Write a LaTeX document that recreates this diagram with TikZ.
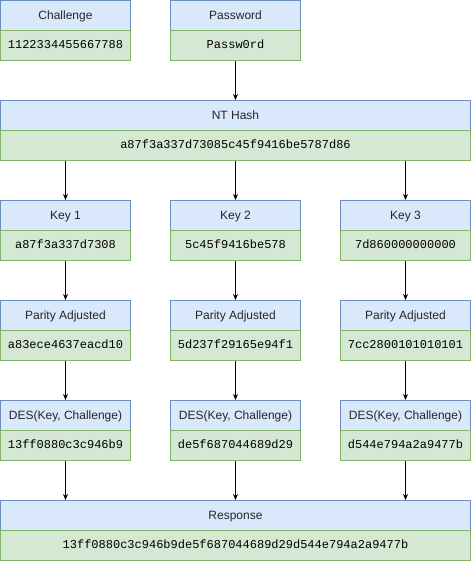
\documentclass[tikz,border=0pt]{standalone}
\usepackage{fontspec}
\setmainfont{Liberation Sans}
\setmonofont{Liberation Mono}
\usetikzlibrary{arrows.meta}

\definecolor{headfill}{HTML}{DAE8FC}
\definecolor{headline}{HTML}{6C8EBF}
\definecolor{valfill}{HTML}{D5E8D4}
\definecolor{valline}{HTML}{82B366}

\tikzset{
  head/.style={draw=headline, fill=headfill, line width=1pt, minimum height=30pt,
    inner sep=0pt, text height=9pt, text depth=1pt,
    font=\fontsize{12}{14}\selectfont, text=black!85},
  val/.style={draw=valline, fill=valfill, line width=1pt, minimum height=30pt,
    inner sep=0pt, text height=8pt, text depth=2pt,
    font=\fontsize{12}{14}\selectfont\ttfamily},
  narrow/.style={minimum width=130pt},
  wide/.style={minimum width=470pt},
  arr/.style={-{Stealth[length=6pt,width=5pt]}, line width=1pt}
}

\begin{document}
\begin{tikzpicture}[x=1pt, y=-1pt]
\useasboundingbox (0,0) rectangle (471,561);
%
  \node [head, narrow] at (65.5,15.5) (chal-h) {Challenge};
  \node [val, narrow] at (65.5,45.5) (chal-v) {1122334455667788};
  \node [head, narrow] at (235.5,15.5) (pw-h) {Password};
  \node [val, narrow] at (235.5,45.5) (pw-v) {Passw0rd};
%
  \node [head, wide] at (235.5,115.5) (nt-h) {NT Hash};
  \node [val, wide] at (235.5,145.5) (nt-v) {a87f3a337d73085c45f9416be5787d86};
%
  \node [head, narrow] at (65.5,215.5) (k1-h) {Key 1};
  \node [val, narrow] at (65.5,245.5) (k1-v) {a87f3a337d7308};
  \node [head, narrow] at (235.5,215.5) (k2-h) {Key 2};
  \node [val, narrow] at (235.5,245.5) (k2-v) {5c45f9416be578};
  \node [head, narrow] at (405.5,215.5) (k3-h) {Key 3};
  \node [val, narrow] at (405.5,245.5) (k3-v) {7d860000000000};
%
  \node [head, narrow] at (65.5,315.5) (p1-h) {Parity Adjusted};
  \node [val, narrow] at (65.5,345.5) (p1-v) {a83ece4637eacd10};
  \node [head, narrow] at (235.5,315.5) (p2-h) {Parity Adjusted};
  \node [val, narrow] at (235.5,345.5) (p2-v) {5d237f29165e94f1};
  \node [head, narrow] at (405.5,315.5) (p3-h) {Parity Adjusted};
  \node [val, narrow] at (405.5,345.5) (p3-v) {7cc2800101010101};
%
  \node [head, narrow] at (65.5,415.5) (d1-h) {DES(Key, Challenge)};
  \node [val, narrow] at (65.5,445.5) (d1-v) {13ff0880c3c946b9};
  \node [head, narrow] at (235.5,415.5) (d2-h) {DES(Key, Challenge)};
  \node [val, narrow] at (235.5,445.5) (d2-v) {de5f687044689d29};
  \node [head, narrow] at (405.5,415.5) (d3-h) {DES(Key, Challenge)};
  \node [val, narrow] at (405.5,445.5) (d3-v) {d544e794a2a9477b};
%
  \node [head, wide] at (235.5,515.5) (res-h) {Response};
  \node [val, wide] at (235.5,545.5) (res-v) {13ff0880c3c946b9de5f687044689d29d544e794a2a9477b};
%
\draw[arr] (pw-v) -- (nt-h);
\draw[arr] (k1-h |- nt-v.south) -- (k1-h);
\draw[arr] (k2-h |- nt-v.south) -- (k2-h);
\draw[arr] (k3-h |- nt-v.south) -- (k3-h);
\draw[arr] (k1-v) -- (p1-h);
\draw[arr] (k2-v) -- (p2-h);
\draw[arr] (k3-v) -- (p3-h);
\draw[arr] (p1-v) -- (d1-h);
\draw[arr] (p2-v) -- (d2-h);
\draw[arr] (p3-v) -- (d3-h);
\draw[arr] (d1-v) -- (d1-v |- res-h.north);
\draw[arr] (d2-v) -- (d2-v |- res-h.north);
\draw[arr] (d3-v) -- (d3-v |- res-h.north);
\end{tikzpicture}
\end{document}
